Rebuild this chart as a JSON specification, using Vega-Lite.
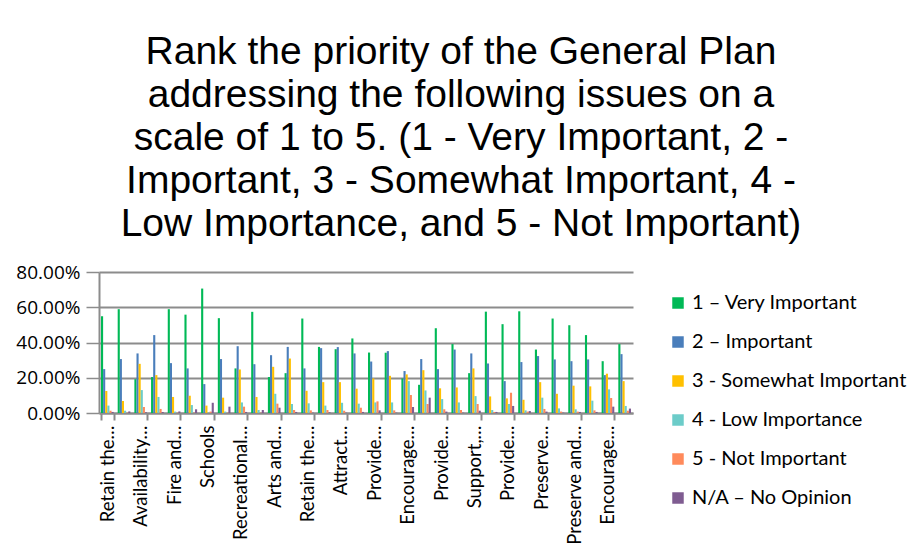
{
"$schema": "https://vega.github.io/schema/vega-lite/v6.json",
"width": 534, "height": 141,
"autosize": "none",
"padding": {"left": 99, "top": 272, "right": 289, "bottom": 143},
"background": "white",
"title": {"text": ["Rank the priority of the General Plan", "addressing the following issues on a", "scale of 1 to 5. (1 - Very Important, 2 -", "Important, 3 - Somewhat Important, 4 -", "Low Importance, and 5 - Not Important)"], "font": "Liberation Sans", "fontSize": 39, "fontWeight": "normal", "color": "#000000", "lineHeight": 43, "anchor": "middle", "frame": "group", "dx": 95, "offset": 19},
"data": {"values": [
{"c":"01|Retain the…","s":"1 – Very Important","v":0.549},{"c":"01|Retain the…","s":"2 – Important","v":0.249},{"c":"01|Retain the…","s":"3 - Somewhat Important","v":0.125},{"c":"01|Retain the…","s":"4 - Low Importance","v":0.042},{"c":"01|Retain the…","s":"5 - Not Important","v":0.013},{"c":"01|Retain the…","s":"N/A – No Opinion","v":0.006},
{"c":"02|","s":"1 – Very Important","v":0.589},{"c":"02|","s":"2 – Important","v":0.306},{"c":"02|","s":"3 - Somewhat Important","v":0.068},{"c":"02|","s":"4 - Low Importance","v":0.013},{"c":"02|","s":"5 - Not Important","v":0.002},{"c":"02|","s":"N/A – No Opinion","v":0.009},
{"c":"03|Availability…","s":"1 – Very Important","v":0.192},{"c":"03|Availability…","s":"2 – Important","v":0.338},{"c":"03|Availability…","s":"3 - Somewhat Important","v":0.279},{"c":"03|Availability…","s":"4 - Low Importance","v":0.130},{"c":"03|Availability…","s":"5 - Not Important","v":0.034},{"c":"03|Availability…","s":"N/A – No Opinion","v":0.004},
{"c":"04|","s":"1 – Very Important","v":0.204},{"c":"04|","s":"2 – Important","v":0.442},{"c":"04|","s":"3 - Somewhat Important","v":0.215},{"c":"04|","s":"4 - Low Importance","v":0.091},{"c":"04|","s":"5 - Not Important","v":0.023},{"c":"04|","s":"N/A – No Opinion","v":0.006},
{"c":"05|Fire and…","s":"1 – Very Important","v":0.589},{"c":"05|Fire and…","s":"2 – Important","v":0.283},{"c":"05|Fire and…","s":"3 - Somewhat Important","v":0.091},{"c":"05|Fire and…","s":"4 - Low Importance","v":0.008},{"c":"05|Fire and…","s":"5 - Not Important","v":0.002},{"c":"05|Fire and…","s":"N/A – No Opinion","v":0.009},
{"c":"06|","s":"1 – Very Important","v":0.558},{"c":"06|","s":"2 – Important","v":0.253},{"c":"06|","s":"3 - Somewhat Important","v":0.098},{"c":"06|","s":"4 - Low Importance","v":0.045},{"c":"06|","s":"5 - Not Important","v":0.002},{"c":"06|","s":"N/A – No Opinion","v":0.021},
{"c":"07|Schools","s":"1 – Very Important","v":0.706},{"c":"07|Schools","s":"2 – Important","v":0.164},{"c":"07|Schools","s":"3 - Somewhat Important","v":0.042},{"c":"07|Schools","s":"4 - Low Importance","v":0.003},{"c":"07|Schools","s":"5 - Not Important","v":0.008},{"c":"07|Schools","s":"N/A – No Opinion","v":0.058},
{"c":"08|","s":"1 – Very Important","v":0.538},{"c":"08|","s":"2 – Important","v":0.306},{"c":"08|","s":"3 - Somewhat Important","v":0.087},{"c":"08|","s":"4 - Low Importance","v":0.008},{"c":"08|","s":"5 - Not Important","v":0.002},{"c":"08|","s":"N/A – No Opinion","v":0.036},
{"c":"09|Recreational…","s":"1 – Very Important","v":0.253},{"c":"09|Recreational…","s":"2 – Important","v":0.379},{"c":"09|Recreational…","s":"3 - Somewhat Important","v":0.247},{"c":"09|Recreational…","s":"4 - Low Importance","v":0.060},{"c":"09|Recreational…","s":"5 - Not Important","v":0.036},{"c":"09|Recreational…","s":"N/A – No Opinion","v":0.006},
{"c":"10|","s":"1 – Very Important","v":0.574},{"c":"10|","s":"2 – Important","v":0.277},{"c":"10|","s":"3 - Somewhat Important","v":0.091},{"c":"10|","s":"4 - Low Importance","v":0.017},{"c":"10|","s":"5 - Not Important","v":0.002},{"c":"10|","s":"N/A – No Opinion","v":0.017},
{"c":"11|Arts and…","s":"1 – Very Important","v":0.204},{"c":"11|Arts and…","s":"2 – Important","v":0.328},{"c":"11|Arts and…","s":"3 - Somewhat Important","v":0.262},{"c":"11|Arts and…","s":"4 - Low Importance","v":0.109},{"c":"11|Arts and…","s":"5 - Not Important","v":0.053},{"c":"11|Arts and…","s":"N/A – No Opinion","v":0.030},
{"c":"12|","s":"1 – Very Important","v":0.226},{"c":"12|","s":"2 – Important","v":0.375},{"c":"12|","s":"3 - Somewhat Important","v":0.309},{"c":"12|","s":"4 - Low Importance","v":0.051},{"c":"12|","s":"5 - Not Important","v":0.017},{"c":"12|","s":"N/A – No Opinion","v":0.006},
{"c":"13|Retain the…","s":"1 – Very Important","v":0.536},{"c":"13|Retain the…","s":"2 – Important","v":0.253},{"c":"13|Retain the…","s":"3 - Somewhat Important","v":0.126},{"c":"13|Retain the…","s":"4 - Low Importance","v":0.055},{"c":"13|Retain the…","s":"5 - Not Important","v":0.015},{"c":"13|Retain the…","s":"N/A – No Opinion","v":0.002},
{"c":"14|","s":"1 – Very Important","v":0.375},{"c":"14|","s":"2 – Important","v":0.368},{"c":"14|","s":"3 - Somewhat Important","v":0.175},{"c":"14|","s":"4 - Low Importance","v":0.042},{"c":"14|","s":"5 - Not Important","v":0.017},{"c":"14|","s":"N/A – No Opinion","v":0.004},
{"c":"15|Attract…","s":"1 – Very Important","v":0.362},{"c":"15|Attract…","s":"2 – Important","v":0.374},{"c":"15|Attract…","s":"3 - Somewhat Important","v":0.175},{"c":"15|Attract…","s":"4 - Low Importance","v":0.058},{"c":"15|Attract…","s":"5 - Not Important","v":0.013},{"c":"15|Attract…","s":"N/A – No Opinion","v":0.002},
{"c":"16|","s":"1 – Very Important","v":0.423},{"c":"16|","s":"2 – Important","v":0.338},{"c":"16|","s":"3 - Somewhat Important","v":0.138},{"c":"16|","s":"4 - Low Importance","v":0.053},{"c":"16|","s":"5 - Not Important","v":0.030},{"c":"16|","s":"N/A – No Opinion","v":0.006},
{"c":"17|Provide…","s":"1 – Very Important","v":0.343},{"c":"17|Provide…","s":"2 – Important","v":0.292},{"c":"17|Provide…","s":"3 - Somewhat Important","v":0.196},{"c":"17|Provide…","s":"4 - Low Importance","v":0.060},{"c":"17|Provide…","s":"5 - Not Important","v":0.066},{"c":"17|Provide…","s":"N/A – No Opinion","v":0.015},
{"c":"18|","s":"1 – Very Important","v":0.342},{"c":"18|","s":"2 – Important","v":0.351},{"c":"18|","s":"3 - Somewhat Important","v":0.211},{"c":"18|","s":"4 - Low Importance","v":0.060},{"c":"18|","s":"5 - Not Important","v":0.015},{"c":"18|","s":"N/A – No Opinion","v":0.002},
{"c":"19|Encourage…","s":"1 – Very Important","v":0.196},{"c":"19|Encourage…","s":"2 – Important","v":0.238},{"c":"19|Encourage…","s":"3 - Somewhat Important","v":0.219},{"c":"19|Encourage…","s":"4 - Low Importance","v":0.181},{"c":"19|Encourage…","s":"5 - Not Important","v":0.102},{"c":"19|Encourage…","s":"N/A – No Opinion","v":0.034},
{"c":"20|","s":"1 – Very Important","v":0.160},{"c":"20|","s":"2 – Important","v":0.306},{"c":"20|","s":"3 - Somewhat Important","v":0.243},{"c":"20|","s":"4 - Low Importance","v":0.128},{"c":"20|","s":"5 - Not Important","v":0.051},{"c":"20|","s":"N/A – No Opinion","v":0.087},
{"c":"21|Provide…","s":"1 – Very Important","v":0.481},{"c":"21|Provide…","s":"2 – Important","v":0.249},{"c":"21|Provide…","s":"3 - Somewhat Important","v":0.140},{"c":"21|Provide…","s":"4 - Low Importance","v":0.079},{"c":"21|Provide…","s":"5 - Not Important","v":0.021},{"c":"21|Provide…","s":"N/A – No Opinion","v":0.008},
{"c":"22|","s":"1 – Very Important","v":0.391},{"c":"22|","s":"2 – Important","v":0.360},{"c":"22|","s":"3 - Somewhat Important","v":0.145},{"c":"22|","s":"4 - Low Importance","v":0.060},{"c":"22|","s":"5 - Not Important","v":0.017},{"c":"22|","s":"N/A – No Opinion","v":0.002},
{"c":"23|Support,…","s":"1 – Very Important","v":0.226},{"c":"23|Support,…","s":"2 – Important","v":0.338},{"c":"23|Support,…","s":"3 - Somewhat Important","v":0.253},{"c":"23|Support,…","s":"4 - Low Importance","v":0.096},{"c":"23|Support,…","s":"5 - Not Important","v":0.051},{"c":"23|Support,…","s":"N/A – No Opinion","v":0.013},
{"c":"24|","s":"1 – Very Important","v":0.575},{"c":"24|","s":"2 – Important","v":0.281},{"c":"24|","s":"3 - Somewhat Important","v":0.094},{"c":"24|","s":"4 - Low Importance","v":0.017},{"c":"24|","s":"5 - Not Important","v":0.006},{"c":"24|","s":"N/A – No Opinion","v":0.006},
{"c":"25|Provide…","s":"1 – Very Important","v":0.504},{"c":"25|Provide…","s":"2 – Important","v":0.181},{"c":"25|Provide…","s":"3 - Somewhat Important","v":0.083},{"c":"25|Provide…","s":"4 - Low Importance","v":0.051},{"c":"25|Provide…","s":"5 - Not Important","v":0.115},{"c":"25|Provide…","s":"N/A – No Opinion","v":0.040},
{"c":"26|","s":"1 – Very Important","v":0.577},{"c":"26|","s":"2 – Important","v":0.289},{"c":"26|","s":"3 - Somewhat Important","v":0.075},{"c":"26|","s":"4 - Low Importance","v":0.015},{"c":"26|","s":"5 - Not Important","v":0.008},{"c":"26|","s":"N/A – No Opinion","v":0.011},
{"c":"27|Preserve…","s":"1 – Very Important","v":0.360},{"c":"27|Preserve…","s":"2 – Important","v":0.323},{"c":"27|Preserve…","s":"3 - Somewhat Important","v":0.175},{"c":"27|Preserve…","s":"4 - Low Importance","v":0.087},{"c":"27|Preserve…","s":"5 - Not Important","v":0.023},{"c":"27|Preserve…","s":"N/A – No Opinion","v":0.008},
{"c":"28|","s":"1 – Very Important","v":0.536},{"c":"28|","s":"2 – Important","v":0.304},{"c":"28|","s":"3 - Somewhat Important","v":0.109},{"c":"28|","s":"4 - Low Importance","v":0.026},{"c":"28|","s":"5 - Not Important","v":0.008},{"c":"28|","s":"N/A – No Opinion","v":0.002},
{"c":"29|Preserve and…","s":"1 – Very Important","v":0.498},{"c":"29|Preserve and…","s":"2 – Important","v":0.294},{"c":"29|Preserve and…","s":"3 - Somewhat Important","v":0.155},{"c":"29|Preserve and…","s":"4 - Low Importance","v":0.021},{"c":"29|Preserve and…","s":"5 - Not Important","v":0.008},{"c":"29|Preserve and…","s":"N/A – No Opinion","v":0.006},
{"c":"30|","s":"1 – Very Important","v":0.442},{"c":"30|","s":"2 – Important","v":0.304},{"c":"30|","s":"3 - Somewhat Important","v":0.151},{"c":"30|","s":"4 - Low Importance","v":0.070},{"c":"30|","s":"5 - Not Important","v":0.015},{"c":"30|","s":"N/A – No Opinion","v":0.006},
{"c":"31|Encourage…","s":"1 – Very Important","v":0.294},{"c":"31|Encourage…","s":"2 – Important","v":0.215},{"c":"31|Encourage…","s":"3 - Somewhat Important","v":0.223},{"c":"31|Encourage…","s":"4 - Low Importance","v":0.134},{"c":"31|Encourage…","s":"5 - Not Important","v":0.085},{"c":"31|Encourage…","s":"N/A – No Opinion","v":0.036},
{"c":"32|","s":"1 – Very Important","v":0.391},{"c":"32|","s":"2 – Important","v":0.334},{"c":"32|","s":"3 - Somewhat Important","v":0.181},{"c":"32|","s":"4 - Low Importance","v":0.040},{"c":"32|","s":"5 - Not Important","v":0.013},{"c":"32|","s":"N/A – No Opinion","v":0.025}
]},
"mark": {"type": "bar"},
"encoding": {
  "x": {"field": "c", "type": "nominal", "sort": null,
    "scale": {"paddingInner": 0.24, "paddingOuter": 0.12},
    "axis": {"title": null,
      "values": ["01|Retain the…","03|Availability…","05|Fire and…","07|Schools","09|Recreational…","11|Arts and…","13|Retain the…","15|Attract…","17|Provide…","19|Encourage…","21|Provide…","23|Support,…","25|Provide…","27|Preserve…","29|Preserve and…","31|Encourage…"],
      "labelExpr": "split(datum.value, '|')[1]",
      "labelAngle": -90, "labelAlign": "right", "labelBaseline": "middle",
      "labelFont": "Lato", "labelFontSize": 18.5, "labelColor": "#000000", "labelPadding": 5,
      "tickBand": "extent", "tickSize": 7, "tickColor": "#8c8c8c", "tickWidth": 2,
      "domainColor": "#8c8c8c", "domainWidth": 2, "labelOverlap": false}},
  "xOffset": {"field": "s", "type": "nominal", "sort": ["1 – Very Important","2 – Important","3 - Somewhat Important","4 - Low Importance","5 - Not Important","N/A – No Opinion"], "scale": {"paddingInner": 0}},
  "y": {"field": "v", "type": "quantitative", "scale": {"domain": [0, 0.8], "nice": false},
    "axis": {"title": null, "format": ".2%", "values": [0, 0.2, 0.4, 0.6, 0.8],
      "labelFont": "Open Sans", "labelFontSize": 19, "labelColor": "#000000", "labelPadding": 6,
      "grid": true, "gridColor": "#8c8c8c", "gridWidth": 2,
      "domain": true, "domainColor": "#8c8c8c", "domainWidth": 2,
      "tickSize": 13, "tickColor": "#8c8c8c", "tickWidth": 1.5}},
  "color": {"field": "s", "type": "nominal",
    "scale": {"domain": ["1 – Very Important","2 – Important","3 - Somewhat Important","4 - Low Importance","5 - Not Important","N/A – No Opinion"],
      "range": ["#00B956","#4A7EBB","#FFC000","#6CCCC9","#FF8A5B","#7F5C91"]},
    "legend": {"title": null, "orient": "none", "legendX": 569, "legendY": 21, "direction": "vertical",
      "symbolType": "square", "symbolSize": 132, "symbolStrokeWidth": 0, "symbolOpacity": 1,
      "labelFont": "Lato", "labelFontSize": 20, "labelColor": "#000000", "labelOffset": 4,
      "rowPadding": 19, "padding": 0, "labelLimit": 400}}
},
"config": {"view": {"stroke": null}}
}
